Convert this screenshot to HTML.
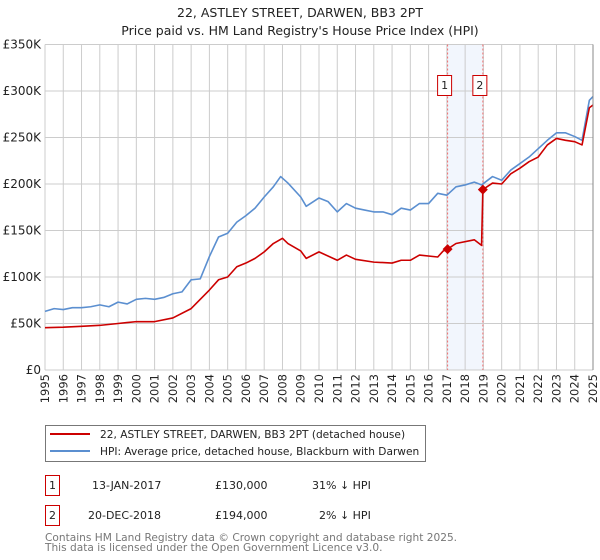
<!DOCTYPE html>
<html><head><meta charset="utf-8">
<style>
body{margin:0;width:600px;height:560px;background:#fff;font-family:"DejaVu Sans","Liberation Sans",sans-serif;overflow:hidden}
svg{display:block}
</style></head><body>
<svg id="chart" width="600" height="560" xmlns="http://www.w3.org/2000/svg">
<text x="300" y="17" text-anchor="middle" font-size="12.5" fill="#222">22, ASTLEY STREET, DARWEN, BB3 2PT</text>
<text x="300" y="35" text-anchor="middle" font-size="12.5" fill="#222">Price paid vs. HM Land Registry's House Price Index (HPI)</text>
<g id="plot"></g>
<g>
<rect x="45.5" y="425.5" width="380" height="36" fill="#fff" stroke="#777"/>
<line x1="50" y1="434" x2="90" y2="434" stroke="#cc0000" stroke-width="2"/>
<text x="100" y="438" font-size="10.6" fill="#222">22, ASTLEY STREET, DARWEN, BB3 2PT (detached house)</text>
<line x1="50" y1="451" x2="90" y2="451" stroke="#5b8fd0" stroke-width="2"/>
<text x="100" y="455" font-size="10.6" fill="#222">HPI: Average price, detached house, Blackburn with Darwen</text>
</g>
<g font-size="11" fill="#222">
<rect x="45.5" y="475.5" width="14" height="20" fill="#fff" stroke="#cc0000"/>
<text x="52.5" y="489" text-anchor="middle">1</text>
<text x="92" y="489">13-JAN-2017</text>
<text x="215" y="489">£130,000</text>
<text x="312" y="489">31% ↓ HPI</text>
<rect x="45.5" y="505.5" width="14" height="20" fill="#fff" stroke="#cc0000"/>
<text x="52.5" y="519" text-anchor="middle">2</text>
<text x="88" y="519">20-DEC-2018</text>
<text x="215" y="519">£194,000</text>
<text x="319" y="519">2% ↓ HPI</text>
</g>
<text x="45" y="541" font-size="10.6" fill="#777">Contains HM Land Registry data © Crown copyright and database right 2025.</text>
<text x="45" y="551" font-size="10.6" fill="#777">This data is licensed under the Open Government Licence v3.0.</text>
</svg>
<script>
const hpiYears=[1995,1995.5,1996,1996.5,1997,1997.5,1998,1998.5,1999,1999.5,2000,2000.5,2001,2001.5,2002,2002.5,2003,2003.5,2004,2004.5,2005,2005.5,2006,2006.5,2007,2007.5,2007.9,2008.3,2009,2009.3,2010,2010.5,2011,2011.5,2012,2012.5,2013,2013.5,2014,2014.5,2015,2015.5,2016,2016.5,2017,2017.5,2018,2018.5,2018.9,2019.5,2020,2020.5,2021,2021.5,2022,2022.5,2023,2023.5,2024,2024.4,2024.8,2025];
const hpiValues=[63,66,65,67,67,68,70,68,73,71,76,77,76,78,82,84,97,98,122,143,147,159,166,174,186,197,208,201,186,176,185,181,170,179,174,172,170,170,167,174,172,179,179,190,188,197,199,202,199,208,204,215,222,229,238,247,255,255,251,247,290,294];
const propYears=[1995,1996,1997,1998,1999,2000,2001,2002,2003,2004,2004.5,2005,2005.5,2006,2006.5,2007,2007.5,2008,2008.3,2009,2009.3,2010,2011,2011.5,2012,2013,2014,2014.5,2015,2015.5,2016.5,2016.8,2017.04,2017.5,2018.5,2018.9,2018.97,2019.5,2020,2020.5,2021,2021.5,2022,2022.5,2023,2023.5,2024,2024.4,2024.8,2025];
const propValues=[45.5,46,47,48,50,52,52,56,66,86,97,100,111,115,120,127,136,141.6,136,128,120,127,118,123.6,119,116,115,118,118,123.6,121.5,128,130,136,140,134,194,201,200,211,217,224,229,242,249,247,245.5,242,282,285];
const saleYears=[2017.04,2018.97];
const saleValues=[130,194];
const yTicks=[0,50,100,150,200,250,300,350];
const yLabels=["£0","£50K","£100K","£150K","£200K","£250K","£300K","£350K"];
const xTicks=[1995,1996,1997,1998,1999,2000,2001,2002,2003,2004,2005,2006,2007,2008,2009,2010,2011,2012,2013,2014,2015,2016,2017,2018,2019,2020,2021,2022,2023,2024,2025];

const NS="http://www.w3.org/2000/svg";
const X0=45,X1=593,Y0=370,Y1=44.5;
const xs=y=>X0+(y-1995)/30*(X1-X0);
const ys=v=>Y0-v/350*(Y0-Y1);
const g=document.getElementById('plot');
function mk(tag,attrs,parent){const e=document.createElementNS(NS,tag);for(const k in attrs)e.setAttribute(k,attrs[k]);(parent||g).appendChild(e);return e;}

const band=mk('rect',{x:xs(saleYears[0]),y:Y1,width:xs(saleYears[1])-xs(saleYears[0]),height:Y0-Y1,fill:'#f2f6fd'});



xTicks.forEach(t=>{
  const l=mk('line',{x1:xs(t),x2:xs(t),y1:Y1,y2:Y0,stroke:'#ccc','stroke-width':1});
  
  
  const tx=mk('text',{x:0,y:0,'font-size':11.5,fill:'#222','text-anchor':'end',transform:`translate(${xs(t)+4},${Y0+4}) rotate(-90)`});
  tx.textContent=t;
  
  
});
yTicks.forEach((t,i)=>{
  const l=mk('line',{x1:X0,x2:X1,y1:ys(t),y2:ys(t),stroke:'#ccc','stroke-width':1});
  
  
  const tx=mk('text',{x:X0-4,y:ys(t)+4,'font-size':12,fill:'#222','text-anchor':'end'});
  tx.textContent=yLabels[i];
  
  
});

saleYears.forEach((s,i)=>{
  const l=mk('line',{x1:xs(s),x2:xs(s),y1:Y1,y2:Y0,stroke:'#ee7070','stroke-width':1,'stroke-dasharray':'2,2'});
  
  
  const cx=i===0?xs(s)-3:xs(s)-3;
  const r=mk('rect',{x:cx-7,y:75.5,width:14,height:20,fill:'#fff',stroke:'#cc0000'});
  
  
  const t=mk('text',{x:cx,y:89,'font-size':11,fill:'#222','text-anchor':'middle'});
  t.textContent=String(i+1);
  
  
});

const hp=mk('polyline',{points:hpiYears.map((y,i)=>xs(y)+','+ys(hpiValues[i])).join(' '),fill:'none',stroke:'#5b8fd0','stroke-width':1.6,'stroke-linejoin':'round'});


const pp=mk('polyline',{points:propYears.map((y,i)=>xs(y)+','+ys(propValues[i])).join(' '),fill:'none',stroke:'#cc0000','stroke-width':1.6,'stroke-linejoin':'round'});


saleYears.forEach((s,i)=>{
  const x=xs(s),y=ys(saleValues[i]);
  const d=mk('polygon',{points:`${x},${y-5} ${x+5},${y} ${x},${y+5} ${x-5},${y}`,fill:'#cc0000'});
  
  
});
const ax=mk('line',{x1:X1,x2:X1,y1:Y1,y2:Y0,stroke:'#888','stroke-width':1});


</script>
</body></html>
